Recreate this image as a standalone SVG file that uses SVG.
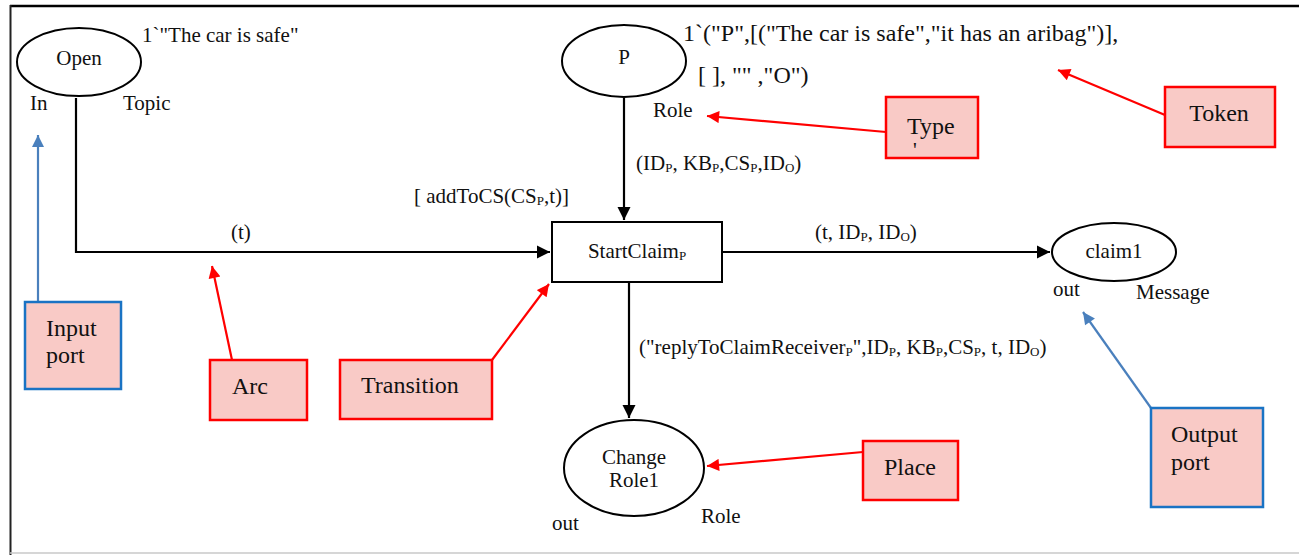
<svg xmlns="http://www.w3.org/2000/svg" width="1299" height="555" viewBox="0 0 1299 555">
  <style>
    text { font-family: "Liberation Serif", "Times New Roman", serif; fill: #111; }
    .lbl { font-size: 21px; }
    .sm { font-size: 21px; }
    .tok { font-size: 24px; }
    .note { font-size: 24px; }
    .sub { font-size: 13px; }
    .place { fill: #fff; stroke: #000; stroke-width: 2; }
    .trans { fill: #fff; stroke: #000; stroke-width: 2; }
    .arc { fill: none; stroke: #000; stroke-width: 2.2; }
    .red { fill: #f9cac6; stroke: #ff0000; stroke-width: 2.5; }
    .blue { fill: #f9cac6; stroke: #1a73c4; stroke-width: 2.5; }
    .rptr { fill: none; stroke: #ff0000; stroke-width: 2.2; }
    .bptr { fill: none; stroke: #4a80bd; stroke-width: 2.2; }
  </style>
  <defs>
    <marker id="ah" viewBox="0 0 10 10" refX="10" refY="5" markerWidth="6" markerHeight="6" orient="auto" markerUnits="strokeWidth">
      <path d="M0,0 L10,5 L0,10 z" fill="#000"/>
    </marker>
    <marker id="ahRed" viewBox="0 0 10 10" refX="10" refY="5" markerWidth="6.5" markerHeight="5.5" orient="auto" markerUnits="strokeWidth">
      <path d="M0,0 L10,5 L0,10 z" fill="#ff0000"/>
    </marker>
    <marker id="ahBlue" viewBox="0 0 10 10" refX="10" refY="5" markerWidth="6.5" markerHeight="5.5" orient="auto" markerUnits="strokeWidth">
      <path d="M0,0 L10,5 L0,10 z" fill="#4a80bd"/>
    </marker>
  </defs>

  <rect width="1299" height="555" fill="#fff"/>
  <!-- frame -->
  <line x1="10" y1="6" x2="1299" y2="6" stroke="#000" stroke-width="2.5"/>
  <line x1="10.5" y1="5" x2="10.5" y2="555" stroke="#222" stroke-width="2"/>
  <line x1="10" y1="553" x2="1299" y2="553" stroke="#c8c8c8" stroke-width="1.5"/>

  <!-- connectors -->
  <g id="connectors">
    <path class="arc" d="M76,98 L76,252 L550,252" marker-end="url(#ah)"/>
    <path class="arc" d="M624,98 L624,220" marker-end="url(#ah)"/>
    <path class="arc" d="M722,252 L1050,252" marker-end="url(#ah)"/>
    <path class="arc" d="M629,282 L629,418" marker-end="url(#ah)"/>
    <text class="sm" x="231" y="239" font-size="18">(t)</text>
    <text class="sm" x="414" y="203">[ addToCS(CS<tspan class="sub" dy="2">P</tspan><tspan dy="-2">,t)]</tspan></text>
    <text class="sm" x="636" y="170">(ID<tspan class="sub" dy="2">P</tspan><tspan dy="-2">, KB</tspan><tspan class="sub" dy="2">P</tspan><tspan dy="-2">,CS</tspan><tspan class="sub" dy="2">P</tspan><tspan dy="-2">,ID</tspan><tspan class="sub" dy="2">O</tspan><tspan dy="-2">)</tspan></text>
    <text class="sm" x="815" y="239">(t, ID<tspan class="sub" dy="2">P</tspan><tspan dy="-2">, ID</tspan><tspan class="sub" dy="2">O</tspan><tspan dy="-2">)</tspan></text>
    <text class="sm" x="639" y="354">("replyToClaimReceiver<tspan class="sub" dy="2">P</tspan><tspan dy="-2">",ID</tspan><tspan class="sub" dy="2">P</tspan><tspan dy="-2">, KB</tspan><tspan class="sub" dy="2">P</tspan><tspan dy="-2">,CS</tspan><tspan class="sub" dy="2">P</tspan><tspan dy="-2">, t, ID</tspan><tspan class="sub" dy="2">O</tspan><tspan dy="-2">)</tspan></text>

    <!-- annotation pointers -->
    <path class="bptr" d="M38,302 L38,135" marker-end="url(#ahBlue)"/>
    <path class="rptr" d="M232,360 L212,266" marker-end="url(#ahRed)"/>
    <path class="rptr" d="M492,360 L549,284" marker-end="url(#ahRed)"/>
    <path class="rptr" d="M886,132 L707,116" marker-end="url(#ahRed)"/>
    <path class="rptr" d="M1165,115 L1058,70" marker-end="url(#ahRed)"/>
    <path class="rptr" d="M863,452 L707,466" marker-end="url(#ahRed)"/>
    <path class="bptr" d="M1151,408 L1083,312" marker-end="url(#ahBlue)"/>
  </g>

  <g id="place-open">
    <ellipse class="place" cx="79" cy="62" rx="62" ry="34"/>
    <text class="lbl" x="79" y="65" text-anchor="middle">Open</text>
    <text class="lbl" x="30" y="110">In</text>
    <text class="lbl" x="123" y="110">Topic</text>
    <text class="lbl" x="142" y="42">1`"The car is safe"</text>
  </g>

  <g id="place-p">
    <ellipse class="place" cx="624" cy="61" rx="62" ry="36"/>
    <text class="lbl" x="624" y="64" text-anchor="middle">P</text>
    <text class="lbl" x="653" y="117">Role</text>
    <text class="tok" x="683" y="41">1`("P",[("The car is safe","it has an aribag")],</text>
    <text class="tok" x="698" y="83">[ ], "" ,"O")</text>
  </g>

  <g id="transition-startclaim">
    <rect class="trans" x="552" y="222" width="170" height="60"/>
    <text class="sm" x="637" y="258" text-anchor="middle">StartClaim<tspan class="sub" dy="2">P</tspan></text>
  </g>

  <g id="place-claim1">
    <ellipse class="place" cx="1114" cy="252" rx="62" ry="29"/>
    <text class="lbl" x="1114" y="258" text-anchor="middle">claim1</text>
    <text class="lbl" x="1053" y="296">out</text>
    <text class="lbl" x="1136" y="299">Message</text>
  </g>

  <g id="place-changerole1">
    <ellipse class="place" cx="634" cy="468" rx="70" ry="48"/>
    <text class="lbl" x="634" y="464" text-anchor="middle">Change</text>
    <text class="lbl" x="634" y="487" text-anchor="middle">Role1</text>
    <text class="lbl" x="552" y="530">out</text>
    <text class="lbl" x="701" y="523">Role</text>
  </g>

  <g id="note-input-port">
    <rect class="blue" x="25" y="302" width="96" height="87"/>
    <text class="note" x="46" y="336">Input</text>
    <text class="note" x="46" y="363">port</text>
  </g>

  <g id="note-arc">
    <rect class="red" x="210" y="360" width="97" height="60"/>
    <text class="note" x="232" y="394">Arc</text>
  </g>

  <g id="note-transition">
    <rect class="red" x="340" y="360" width="152" height="59"/>
    <text class="note" x="361" y="393">Transition</text>
  </g>

  <g id="note-type">
    <rect class="red" x="886" y="97" width="92" height="61"/>
    <text class="note" x="907" y="134">Type</text>
    <text class="lbl" x="913" y="157">'</text>
  </g>

  <g id="note-token">
    <rect class="red" x="1165" y="87" width="110" height="60"/>
    <text class="note" x="1219" y="121" text-anchor="middle">Token</text>
  </g>

  <g id="note-place">
    <rect class="red" x="863" y="441" width="95" height="59"/>
    <text class="note" x="910" y="475" text-anchor="middle">Place</text>
  </g>

  <g id="note-output-port">
    <rect class="blue" x="1151" y="408" width="112" height="99"/>
    <text class="note" x="1171" y="442">Output</text>
    <text class="note" x="1171" y="470">port</text>
  </g>
</svg>
